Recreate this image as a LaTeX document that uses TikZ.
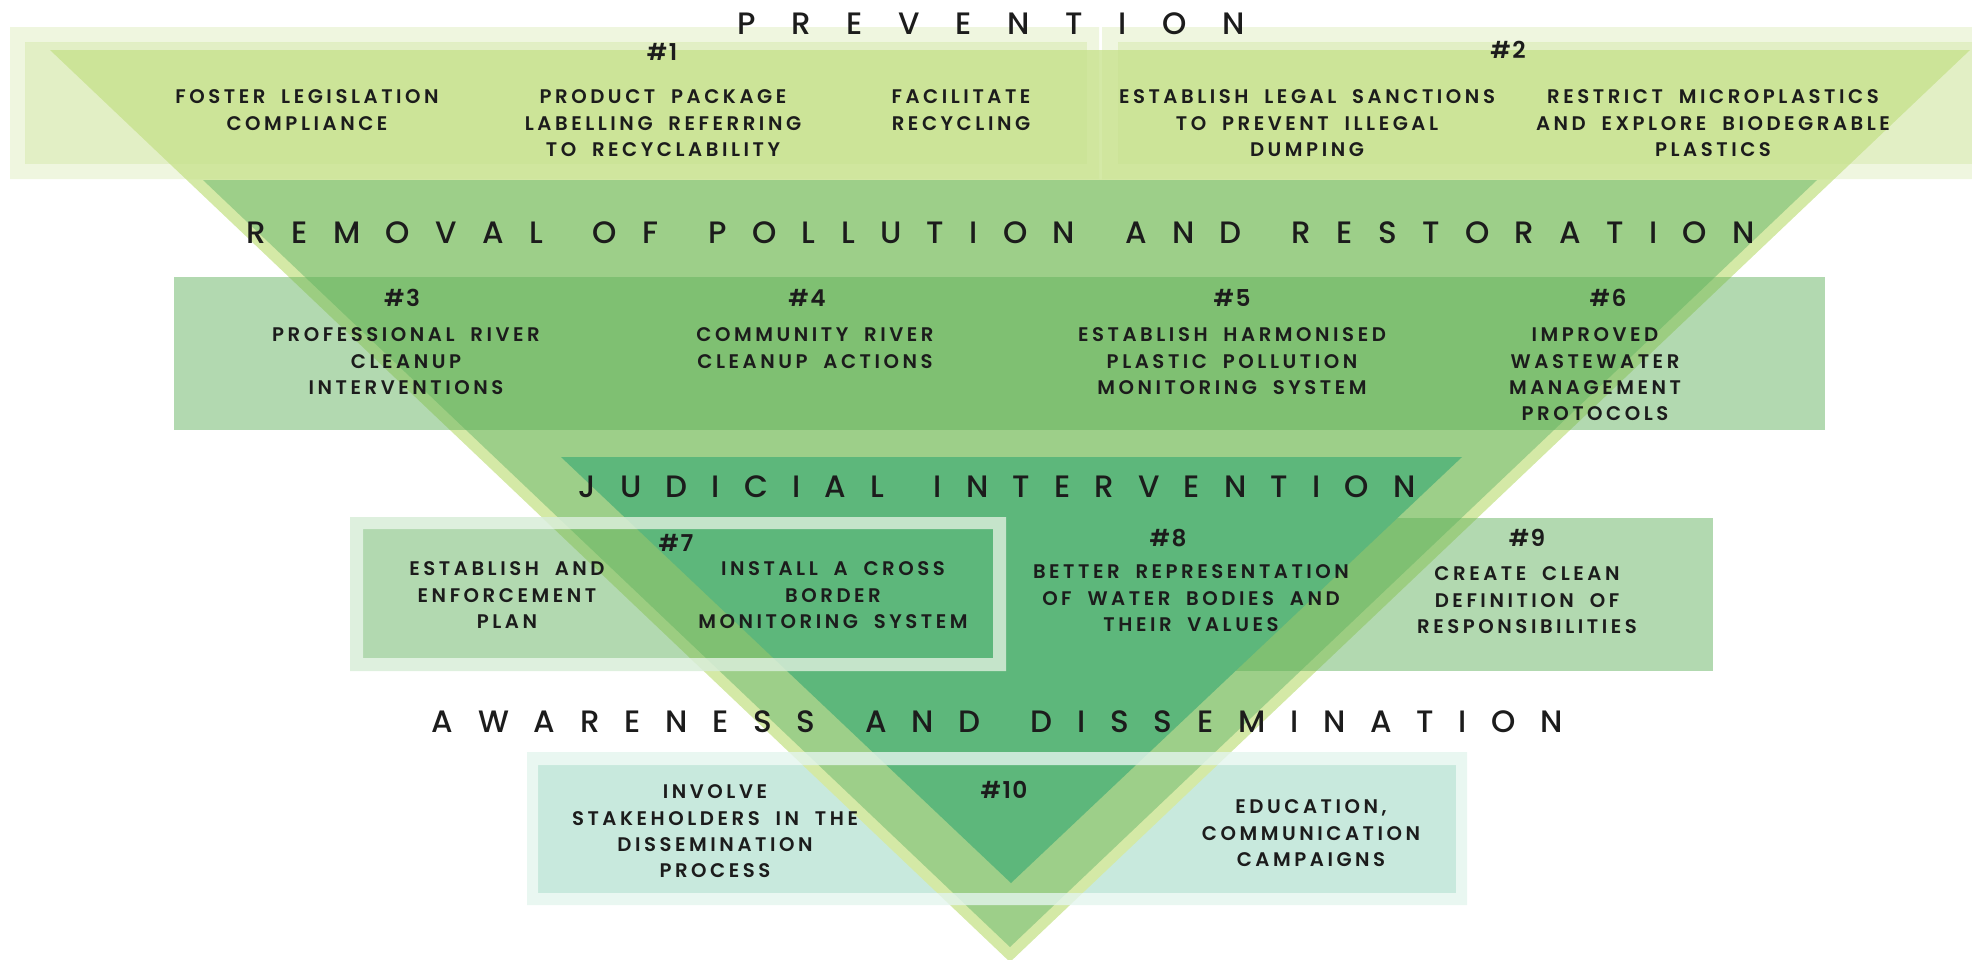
\documentclass[tikz,border=0pt]{standalone}
\usepackage{fontspec}
\setmainfont{Poppins}
\newfontfamily\headfont{Poppins Medium}
\newfontfamily\itemfont[LetterSpace=18]{Poppins SemiBold}
\newfontfamily\numfont[LetterSpace=6]{Poppins SemiBold}
\newcommand{\wordgap}{\hspace{14.2pt}}
\newcommand{\itemspacing}{\spaceskip 4.5pt\relax}
\definecolor{paleA}{HTML}{D4E9A6}
\definecolor{midB}{HTML}{9DCF89}
\definecolor{darkC}{HTML}{5DB77B}
\definecolor{bandgreen}{HTML}{5FB05A}
\definecolor{topgreen}{HTML}{C6E08C}
\definecolor{frameseven}{HTML}{D8EDD8}
\definecolor{frameten}{HTML}{E4F5EE}
\definecolor{tealbox}{HTML}{C8E9DD}
\definecolor{ink}{HTML}{1C1C1C}
\begin{document}
\begin{tikzpicture}[x=0.01cm,y=-0.01cm]
\tikzstyle{item}=[inner sep=0,anchor=north,align=center,text=ink,font=\itemfont\fontsize{5.6}{7.5}\selectfont\itemspacing]
\tikzstyle{num}=[inner sep=0,text=ink,font=\numfont\fontsize{6.6}{8}\selectfont]
\tikzstyle{head}=[inner sep=0,anchor=west,text=ink,font=\headfont\fontsize{8.8}{10}\selectfont]
\tikzstyle{band}=[fill=bandgreen,fill opacity=0.48]
\useasboundingbox (0,0) rectangle (1972,959);
\fill[tealbox] (538,765) rectangle (1456,893);
\fill[paleA] (50,50) -- (1970,50) -- (1010,962) -- cycle;
\fill[midB] (203,180) -- (1817,180) -- (1010,947) -- cycle;
\fill[band] (174,277) rectangle (1825,430);
\fill[band] (1000,518) rectangle (1713,671);
\fill[band] (363,529) rectangle (993,658);
\fill[darkC] (561,457) -- (1462,457) -- (1011,883) -- cycle;
\fill[frameseven,fill opacity=0.85,even odd rule] (350,517) rectangle (1006,671) (363,529) rectangle (993,658);
\fill[frameten,fill opacity=0.8,even odd rule] (527,752) rectangle (1467,905) (538,765) rectangle (1456,893);
\fill[topgreen,fill opacity=0.28,even odd rule] (10,27) rectangle (1099,179) (25,42) rectangle (1087,164);
\fill[topgreen,fill opacity=0.5] (25,42) rectangle (1087,164);
\fill[topgreen,fill opacity=0.28,even odd rule] (1102,27) rectangle (1990,179) (1118,42) rectangle (1990,164);
\fill[topgreen,fill opacity=0.5] (1118,42) rectangle (1990,164);

\node[head] (prevention) at (737,24) {\addfontfeature{LetterSpace=115}PREVENTION};
\node[num] (n1) at (662,52) {\#1};
\node[item] (foster) at (307,89) {FOSTER LEGISLATION\\COMPLIANCE};
\node[item] (labelling) at (663,89) {PRODUCT PACKAGE\\LABELLING REFERRING\\TO RECYCLABILITY};
\node[item] (recycling) at (961,89) {FACILITATE\\RECYCLING};
\node[num] (n2) at (1508,50) {\#2};
\node[item] (sanctions) at (1307,89) {ESTABLISH LEGAL SANCTIONS\\TO PREVENT ILLEGAL\\DUMPING};
\node[item] (microplastics) at (1713,89) {RESTRICT MICROPLASTICS\\AND EXPLORE BIODEGRABLE\\PLASTICS};

\node[head] (removal) at (246,233) {\addfontfeature{LetterSpace=82}REMOVAL\wordgap OF\wordgap POLLUTION\wordgap AND\wordgap RESTORATION};
\node[num] (n3) at (402,298) {\#3};
\node[item] (professional) at (406,327) {PROFESSIONAL RIVER\\CLEANUP\\INTERVENTIONS};
\node[num] (n4) at (807,298) {\#4};
\node[item] (community) at (815,327) {COMMUNITY RIVER\\CLEANUP ACTIONS};
\node[num] (n5) at (1232,298) {\#5};
\node[item] (monitoring) at (1232,327) {ESTABLISH HARMONISED\\PLASTIC POLLUTION\\MONITORING SYSTEM};
\node[num] (n6) at (1608,298) {\#6};
\node[item] (wastewater) at (1595,327) {IMPROVED\\WASTEWATER\\MANAGEMENT\\PROTOCOLS};

\node[head] (judicial) at (578,487) {\addfontfeature{LetterSpace=78}JUDICIAL\wordgap INTERVENTION};
\node[num] (n7) at (676,543) {\#7};
\node[item] (enforcement) at (507,561) {ESTABLISH AND\\ENFORCEMENT\\PLAN};
\node[item] (crossborder) at (833,561) {INSTALL A CROSS\\BORDER\\MONITORING SYSTEM};
\node[num] (n8) at (1168,538) {\#8};
\node[item] (waterbodies) at (1191,564) {BETTER REPRESENTATION\\OF WATER BODIES AND\\THEIR VALUES};
\node[num] (n9) at (1527,538) {\#9};
\node[item] (responsibilities) at (1527,566) {CREATE CLEAN\\DEFINITION OF\\RESPONSIBILITIES};

\node[head] (awareness) at (431,722) {\addfontfeature{LetterSpace=80}AWARENESS\wordgap AND\wordgap DISSEMINATION};
\node[num] (n10) at (1004,790) {\#10};
\node[item] (stakeholders) at (715,784) {INVOLVE\\STAKEHOLDERS IN THE\\DISSEMINATION\\PROCESS};
\node[item] (campaigns) at (1311,799) {EDUCATION,\\COMMUNICATION\\CAMPAIGNS};
\end{tikzpicture}
\end{document}
